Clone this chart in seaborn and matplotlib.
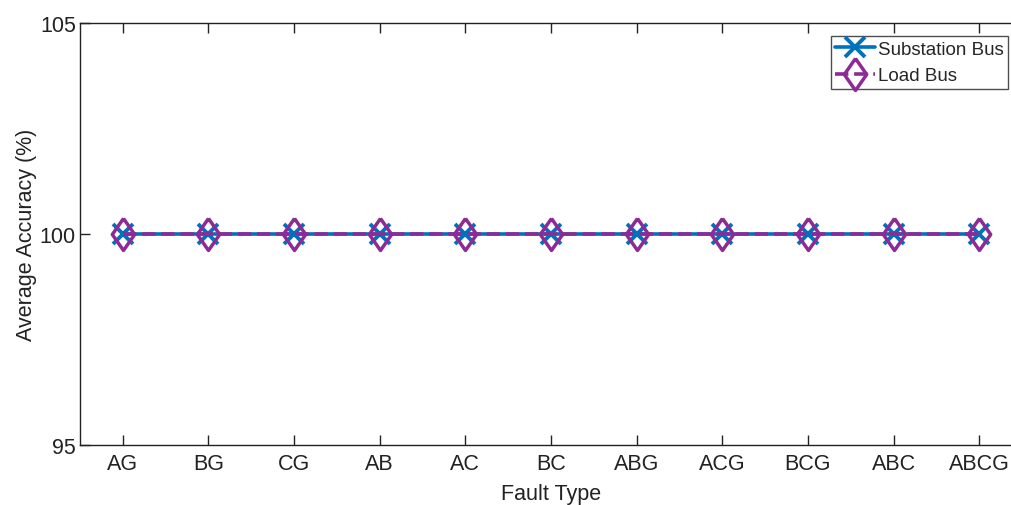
import numpy as np
import pandas as pd
import seaborn as sns
import matplotlib.pyplot as plt

# Données
fault_types = ["AG", "BG", "CG", "AB", "AC", "BC", "ABG", "ACG", "BCG", "ABC", "ABCG"]
substation_bus = [100, 100, 100, 100, 100, 100, 100, 100, 100, 100, 100]
load_bus = [100, 100, 100, 100, 100, 100, 100, 100, 100, 100, 100]

sns.set_style("white")
plt.rcParams['font.family'] = ['Liberation Sans', 'DejaVu Sans']

positions = np.arange(1, len(fault_types) + 1)
df = pd.DataFrame({"pos": np.concatenate([positions, positions]),
                   "acc": substation_bus + load_bus,
                   "serie": ["Substation Bus"] * len(positions) + ["Load Bus"] * len(positions)})

fig = plt.figure(figsize=(10.12, 5.06), dpi=100)
ax = fig.add_axes([80 / 1012, 1 - 446 / 506, (1022 - 80) / 1012, (446 - 24) / 506])

blue = "#0072BD"
purple = "#8E2A96"

# losange un peu plus large que le 'd' de matplotlib
losange = [(0, 1), (0.7, 0), (0, -1), (-0.7, 0), (0, 1)]

sns.lineplot(data=df[df["serie"] == "Substation Bus"], x="pos", y="acc", ax=ax,
             color=blue, linewidth=2.6, marker="x", markersize=14, markeredgewidth=2.8,
             markeredgecolor=blue, label="Substation Bus")
sns.lineplot(data=df[df["serie"] == "Load Bus"], x="pos", y="acc", ax=ax,
             color=purple, linewidth=2.6, linestyle="--", dashes=(4, 1.5), marker=losange,
             markersize=23, markeredgewidth=2.5, markerfacecolor="none",
             markeredgecolor=purple, label="Load Bus")

ax.set_xlim(0.5, 11.5)
ax.set_ylim(95, 105)
ax.set_xticks(positions)
ax.set_xticklabels(fault_types)
ax.set_yticks([95, 100, 105])
ax.tick_params(direction="in", length=7, width=1, labelsize=15.5, colors="#222222",
               top=True, bottom=True, left=True, right=False, pad=6)
ax.tick_params(axis="y", pad=3)
for s in ["top", "bottom", "left"]:
    ax.spines[s].set_color("#222222")
    ax.spines[s].set_linewidth(1)
ax.spines["right"].set_visible(False)

ax.set_xlabel("Fault Type", fontsize=15.5, color="#222222", labelpad=6)
ax.set_ylabel("Average Accuracy (%)", fontsize=15.5, color="#222222", labelpad=2)

leg = ax.legend(loc="upper right", bbox_to_anchor=((1008 - 80) / (1022 - 80), (446 - 37) / 422),
                fontsize=13.5, frameon=True, fancybox=False, borderpad=0.25, handlelength=2.1,
                handletextpad=0.15, labelspacing=0.5, borderaxespad=0)
leg.get_frame().set_edgecolor("#222222")
leg.get_frame().set_linewidth(1)

fig.savefig("out.png", dpi=100)
